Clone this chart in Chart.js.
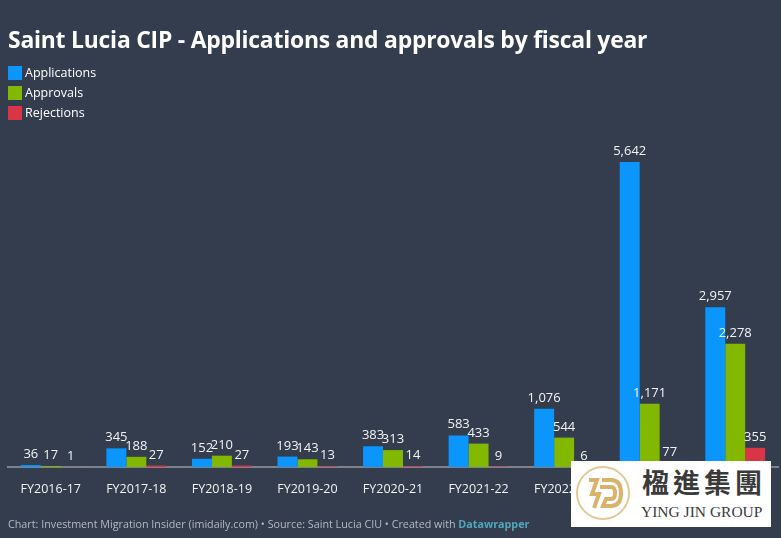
<!DOCTYPE html>
<html>
<head>
<meta charset="utf-8">
<script src="https://cdn.jsdelivr.net/npm/chart.js@4.4.1/dist/chart.umd.min.js"></script>
<style>
  html, body { margin: 0; padding: 0; background: #333d4e; }
  body { width: 781px; height: 538px; position: relative; overflow: hidden; font-family: "Open Sans", sans-serif; }
  #chart { position: absolute; left: 0; top: 0; }
  .title { position: absolute; left: 8px; top: 24px; color: #fff; font-weight: 700; font-size: 22.9px; white-space: nowrap; letter-spacing: -0.22px; }
  .legend { position: absolute; left: 8px; top: 64px; color: #fff; font-size: 12.5px; }
  .legend div { height: 20px; line-height: 17px; }
  .legend span { display: inline-block; width: 14px; height: 14px; vertical-align: -3px; margin-right: 3px; }
  .footer { position: absolute; left: 8px; top: 517px; color: #b4b9c1; font-size: 10.75px; white-space: nowrap; }
  .footer b { color: #52a7bd; }
  .logo { position: absolute; left: 571px; top: 461px; width: 200px; height: 66px; background: #fff; }
  .logo .cn { position: absolute; left: 71px; top: 6px; font-family: "Noto Sans CJK TC", sans-serif; font-size: 27px; line-height: 30px; color: #3a3a3a; letter-spacing: 4px; font-weight: 700; }
  .logo .en { position: absolute; left: 70px; top: 42px; font-family: "Liberation Serif", serif; font-size: 15.5px; color: #3a3a3a; white-space: nowrap; }
  .logo svg { position: absolute; left: 4px; top: 3px; }
</style>
</head>
<body>
<canvas id="chart" width="781" height="538"></canvas>
<div class="title">Saint Lucia CIP - Applications and approvals by fiscal year</div>
<div class="legend">
  <div><span style="background:#0a96fc"></span>Applications</div>
  <div><span style="background:#82b800"></span>Approvals</div>
  <div><span style="background:#da3447"></span>Rejections</div>
</div>
<div class="footer">Chart: Investment Migration Insider (imidaily.com) • Source: Saint Lucia CIU • Created with <b>Datawrapper</b></div>
<div class="logo">
  <svg width="60" height="60" viewBox="0 0 60 60">
    <circle cx="28" cy="29" r="26" fill="none" stroke="#e3c894" stroke-width="2"/>
    <path d="M14 16 L22 16 L17 30 L24 30 L19 44" fill="none" stroke="#d9b36a" stroke-width="4"/>
    <path d="M27 16 L36 16 Q46 16 46 29 Q46 42 36 42 L28 42 L31 35 L36 35 Q40 35 40 29 Q40 23 36 23 L25 23" fill="none" stroke="#d9b36a" stroke-width="4"/>
  </svg>
  <div class="cn">楹進集團</div>
  <div class="en">YING JIN GROUP</div>
</div>
<script>
var years = ['FY2016-17', 'FY2017-18', 'FY2018-19', 'FY2019-20', 'FY2020-21', 'FY2021-22', 'FY2022-23', 'FY2023-24', 'FY2024-25'];
var applications = [36, 345, 152, 193, 383, 583, 1076, 5642, 2957];
var approvals = [17, 188, 210, 143, 313, 433, 544, 1171, 2278];
var rejections = [1, 27, 27, 13, 14, 9, 6, 77, 355];

// values above the bars, like datawrapper does it
var barLabels = {
  id: 'barLabels',
  afterDatasetsDraw: function(chart) {
    var ctx = chart.ctx;
    ctx.save();
    ctx.font = '13px "Open Sans", sans-serif';
    ctx.fillStyle = '#f2f2f2';
    ctx.textAlign = 'center';
    ctx.textBaseline = 'alphabetic';
    chart.data.datasets.forEach(function(ds, i) {
      chart.getDatasetMeta(i).data.forEach(function(bar, j) {
        ctx.fillText(ds.data[j].toLocaleString('en-US'), bar.x, bar.y - 7);
      });
    });
    ctx.restore();
  }
};

var ctx = document.getElementById('chart').getContext('2d');
var chart = new Chart(ctx, {
  type: 'bar',
  data: {
    labels: years,
    datasets: [
      { label: 'Applications', data: applications, backgroundColor: '#0a96fc' },
      { label: 'Approvals', data: approvals, backgroundColor: '#82b800' },
      { label: 'Rejections', data: rejections, backgroundColor: '#da3447' }
    ]
  },
  plugins: [barLabels],
  options: {
    responsive: false,
    animation: false,
    layout: { padding: { top: 130, left: 8, right: 3, bottom: 41 } },
    datasets: { bar: { barPercentage: 1, categoryPercentage: 0.7 } },
    plugins: {
      legend: { display: false },
      tooltip: { enabled: false }
    },
    scales: {
      x: {
        grid: { display: false },
        border: { display: true, color: '#7d828b', width: 2 },
        ticks: { color: '#f2f2f2', font: { family: 'Open Sans', size: 12.5 }, padding: 7, maxRotation: 0, autoSkip: false },
        afterFit: function(scale) { scale.height = 30; }
      },
      y: { display: false, min: 0, max: 6234 }
    }
  }
});
</script>
</body>
</html>
